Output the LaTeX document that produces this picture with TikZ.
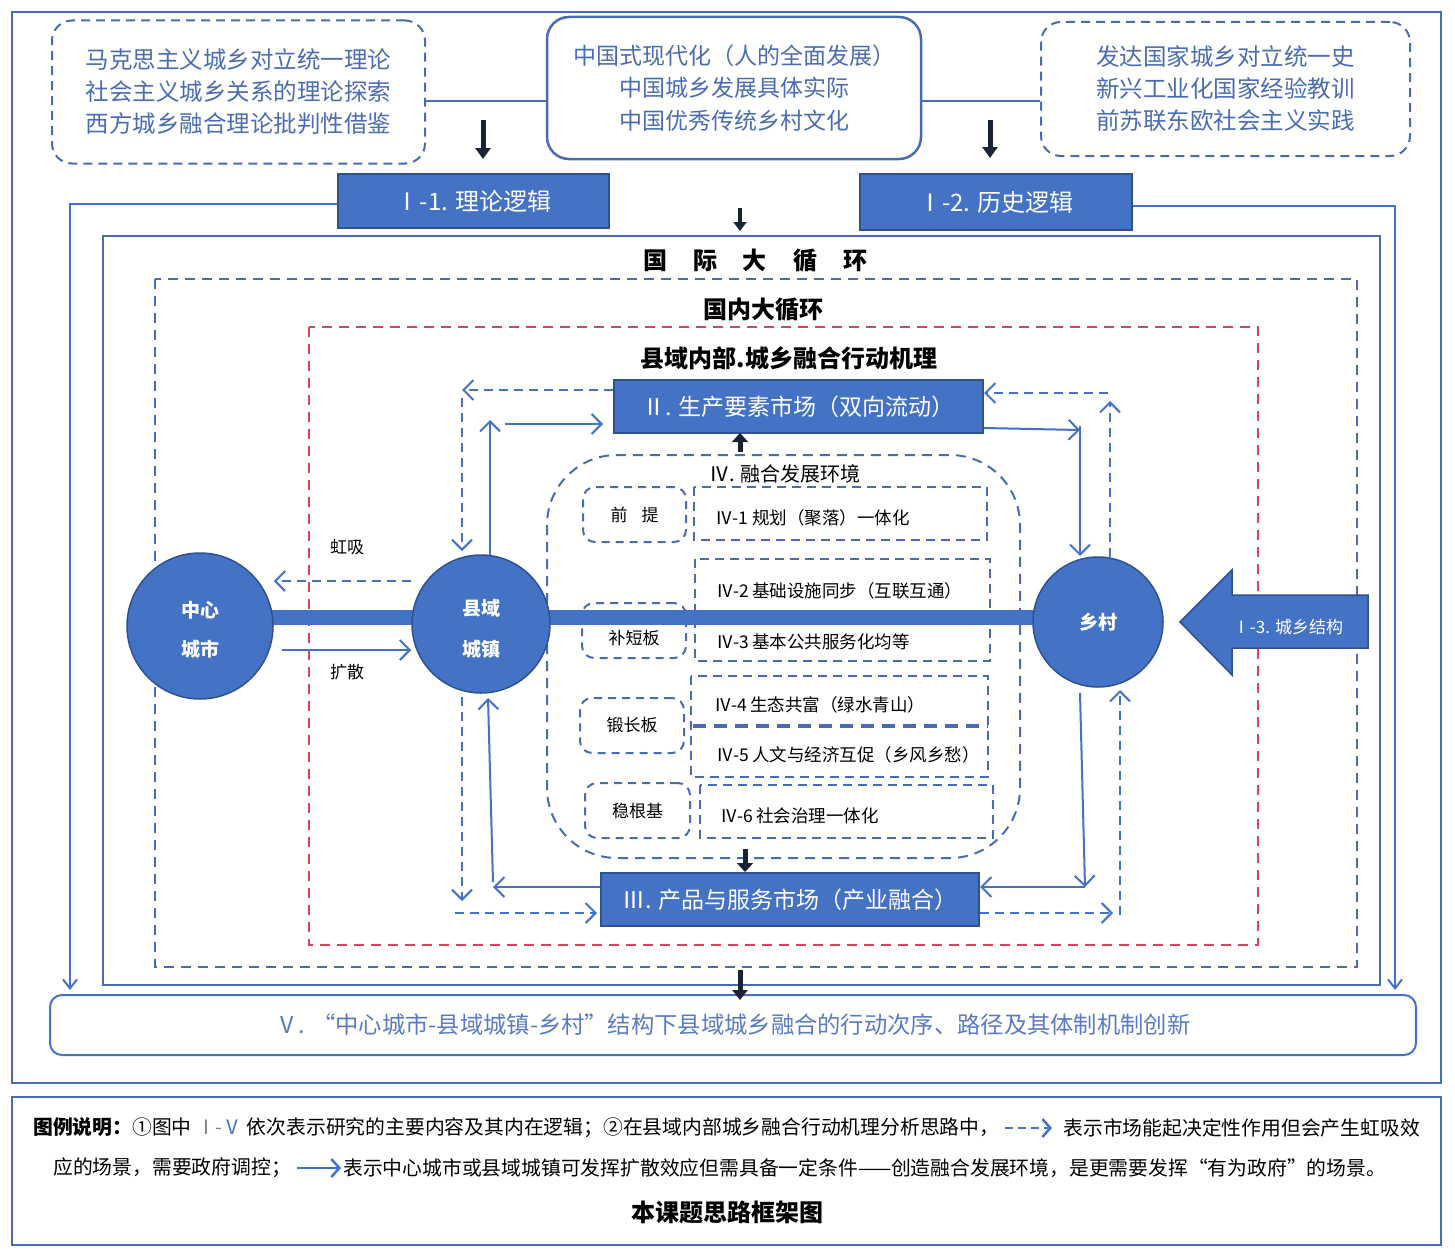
\documentclass[tikz,border=0pt]{standalone}
\usepackage{fontspec}
\setmainfont{Noto Sans CJK SC}
\usetikzlibrary{arrows.meta}
\definecolor{mblue}{HTML}{4472C4}
\definecolor{dblue}{HTML}{2F528F}
\definecolor{fblue}{HTML}{4A6BAF}
\definecolor{tblue}{HTML}{4A6CB0}
\definecolor{lblue}{HTML}{5A7BC2}
\definecolor{mred}{HTML}{D6455E}
\definecolor{blk}{HTML}{1A2236}
\newcommand\myfs[2]{\fontsize{#1}{#2}\selectfont}
\tikzset{
  frame/.style={draw=fblue, line width=2.5pt},
  dashbox/.style={draw=fblue, line width=2pt, dash pattern=on 9pt off 6pt, rounded corners=20pt},
  solidbox/.style={draw=fblue, line width=2.5pt, rounded corners=22pt},
  fillbox/.style={fill=mblue, draw=dblue, line width=2pt, text=white, inner sep=0pt},
  dframe/.style={draw=fblue, line width=2pt, dash pattern=on 10pt off 7pt},
  rframe/.style={draw=mred, line width=2pt, dash pattern=on 10pt off 7pt},
  ttl/.style={font=\myfs{24}{24}\bfseries, text=black},
  sbox/.style={draw=fblue, line width=2pt, dash pattern=on 8pt off 6pt, rounded corners=12pt, font=\myfs{17}{17}, text=black, inner sep=0pt},
  ibox/.style={draw=fblue, line width=2pt, dash pattern=on 9pt off 6pt},
  item/.style={font=\myfs{17.5}{17.5}, text=black, anchor=west, inner sep=0pt},
  circ/.style={circle, fill=mblue, draw=dblue, line width=1.5pt, inner sep=0pt},
  ctext/.style={text=white, font=\myfs{19}{19}\bfseries, inner sep=0pt},
  sarr/.style={draw=mblue, line width=2pt, -{Straight Barb[length=10pt,width=20pt]}},
  darr/.style={sarr, dash pattern=on 9pt off 6pt},
  thinarr/.style={draw=mblue, line width=2pt, -{Straight Barb[length=9pt,width=14pt]}},
  blkarr/.style={draw=blk, line width=5pt, -{Triangle[length=11pt,width=15pt]}},
  lbl/.style={font=\myfs{17}{17}, text=black, inner sep=0pt},
}
\begin{document}
\begin{tikzpicture}[x=1pt,y=-1pt]
\useasboundingbox (0,0) rectangle (1455,1255);
% outer frames
\draw[frame] (12,12) rectangle (1441,1083);
\draw[frame] (12,1097) rectangle (1441,1245);

% top boxes
\node[dashbox, minimum width=373pt, minimum height=143pt, text=tblue, font=\myfs{23.5}{32}, align=center] (lb) at (238.5,92)
  {马克思主义城乡对立统一理论\\社会主义城乡关系的理论探索\\西方城乡融合理论批判性借鉴};
\node[solidbox, minimum width=374pt, minimum height=142pt, text=tblue, font=\myfs{23}{32.5}, align=center] (cb) at (734,88)
  {中国式现代化（人的全面发展）\\中国城乡发展具体实际\\中国优秀传统乡村文化};
\node[dashbox, minimum width=369pt, minimum height=134pt, text=tblue, font=\myfs{23.5}{32}, align=center] (rb) at (1225.5,89)
  {发达国家城乡对立统一史\\新兴工业化国家经验教训\\前苏联东欧社会主义实践};
\draw[draw=fblue, line width=2.5pt] (lb.east |- 0,101) -- (cb.west |- 0,101);
\draw[draw=fblue, line width=2.5pt] (cb.east |- 0,101) -- (rb.west |- 0,101);

% I-1, I-2
\node[fillbox, minimum width=271pt, minimum height=54pt, font=\myfs{24}{24}] (I1) at (473.5,201) {Ⅰ-1. 理论逻辑};
\node[fillbox, minimum width=272pt, minimum height=56pt, font=\myfs{24}{24}] (I2) at (996,202) {Ⅰ-2. 历史逻辑};
\coordinate (a1s) at (483,120); \coordinate (a1e) at (483,159);
\coordinate (a2s) at (990,120); \coordinate (a2e) at (990,158);
\draw[blkarr] (a1s) -- (a1e);
\draw[blkarr] (a2s) -- (a2e);

% international frame
\draw[frame] (103,236) rectangle (1380,985);
\coordinate (a3s) at (740,208); \coordinate (a3e) at (740,231);
\draw[blkarr, line width=4pt, -{Triangle[length=9pt,width=13pt]}] (a3s) -- (a3e);
\node[ttl] (intlT) at (755,261) {国\hspace{26pt}际\hspace{26pt}大\hspace{26pt}循\hspace{26pt}环};

% I-1 and I-2 to V
\coordinate (vl) at (70,990); \coordinate (vr) at (1395,990);
\draw[thinarr] (I1.west |- 0,204) -| (vl);
\draw[thinarr] (I2.east |- 0,206) -| (vr);

% domestic frame
\draw[dframe] (155,279) rectangle (1357,967);
\node[ttl] (domT) at (763,310) {国内大循环};
% red frame
\draw[rframe] (309,327) rectangle (1258,945);
\node[ttl] (redT) at (789,358) {县域内部.城乡融合行动机理};

% IV environment
\draw[draw=fblue, line width=2pt, dash pattern=on 10pt off 7pt, rounded corners=70pt] (547,455) rectangle (1020,858);
\node[font=\myfs{20}{20}, text=black, inner sep=0pt] (ivT) at (785,474) {Ⅳ. 融合发展环境};
\node[sbox, minimum width=103pt, minimum height=55pt] (qt) at (634.5,514.5) {前\hspace{14pt}提};
\node[sbox, minimum width=104pt, minimum height=55pt] (bdb) at (634,630.5) {};
\node[font=\myfs{17}{17}, text=black, inner sep=0pt] (bdbT) at (634,638) {补短板};
\node[sbox, minimum width=104pt, minimum height=55pt] (dcb) at (632,725.5) {锻长板};
\node[sbox, minimum width=105pt, minimum height=55pt] (wgj) at (637.5,810.5) {稳根基};
\draw[ibox] (694,487) rectangle (987,540);
\draw[ibox] (695,559) rectangle (990,661);
\draw[ibox] (691,676) rectangle (988,777);
\draw[draw=fblue, line width=4.5pt, dash pattern=on 13pt off 8pt] (693,726) -- (988,726);
\draw[ibox] (700,785) rectangle (993,838);
\node[item] (iv1) at (715,518) {Ⅳ-1 规划（聚落）一体化};
\node[item] (iv2) at (716,591) {Ⅳ-2\,基础设施同步（互联互通）};
\node[item] (iv3) at (716,642) {Ⅳ-3\,基本公共服务化均等};
\node[item] (iv4) at (714,705) {Ⅳ-4\,生态共富（绿水青山）};
\node[item] (iv5) at (716,755) {Ⅳ-5\,人文与经济互促（乡风乡愁）};
\node[item] (iv6) at (720,816) {Ⅳ-6\,社会治理一体化};

% thick bar
\coordinate (barL) at (272,617.5); \coordinate (barR) at (1036,617.5);
\draw[draw=mblue, line width=15pt] (barL) -- (barR);

% circles
\node[circ, minimum size=146pt] (city) at (200,626) {};
\node[ctext] (cityA) at (200,610) {中心};
\node[ctext] (cityB) at (200,649) {城市};
\node[circ, minimum size=138pt] (county) at (481,624) {};
\node[ctext] (countyA) at (481,608) {县域};
\node[ctext] (countyB) at (481,649) {城镇};
\node[circ, minimum size=130pt] (vill) at (1098,622) {};
\node[ctext] (villT) at (1098,622) {乡村};

% markets
\node[fillbox, minimum width=369pt, minimum height=53pt, font=\myfs{23}{23}] (II) at (798.5,406.5) {Ⅱ. 生产要素市场（双向流动）};
\node[fillbox, minimum width=378pt, minimum height=53pt, font=\myfs{23}{23}] (III) at (790,899.5) {Ⅲ. 产品与服务市场（产业融合）};
\coordinate (a4s) at (740,452); \coordinate (a4e) at (740,433);
\draw[blkarr, line width=5pt, -{Triangle[length=9pt,width=16pt]}] (a4s) -- (a4e);
\coordinate (a5s) at (745,849); \coordinate (a5e) at (745,872);
\draw[blkarr, line width=5pt, -{Triangle[length=9pt,width=16pt]}] (a5s) -- (a5e);

% city - county
\node[lbl] (hx) at (347,547) {虹吸};
\node[lbl] (ks) at (347,672) {扩散};
\draw[darr] (county.west |- 0,581) -- (city.east |- 0,581);
\draw[sarr] (282,650) -- (county.west |- 0,650);

% county arrows
\coordinate (c1) at (462,390);
\draw[darr] (II.west |- 0,390) -- (c1);
\draw[darr] (462,398) -- (462,551);
\draw[sarr] (490,555) -- (490,420);
\draw[sarr] (505,424) -- (603,424);
\draw[sarr] (III.west |- 0,887) -- (493,887);
\draw[sarr] (493,882) -- (488,698);
\draw[darr] (462,697) -- (462,901);
\draw[darr] (455,913) -- (597,913);

% village arrows
\draw[sarr] (II.east |- 0,428) -- (1080,430);
\draw[sarr] (1080,426) -- (1080,556);
\draw[darr] (1110,557) -- (1110,401);
\draw[darr] (1108,393) -- (II.east |- 0,393);
\draw[sarr] (1080,693) -- (1085,887);
\draw[sarr] (1085,887) -- (III.east |- 0,887);
\draw[darr] (III.east |- 0,913) -- (1113,913);
\draw[darr] (1120,915) -- (1120,690);

% I-3 block arrow
\draw[fill=mblue, draw=dblue, line width=1.5pt] (1368,595) -- (1232,595) -- (1232,570) -- (1180,622) -- (1232,675) -- (1232,648) -- (1368,648) -- cycle;
\node[text=white, font=\myfs{17}{17}, inner sep=0pt] (I3) at (1288,627) {Ⅰ-3. 城乡结构};

% V box
\coordinate (a6s) at (740,970); \coordinate (a6e) at (740,1000);
\node[draw=mblue, line width=2pt, rounded corners=12pt, minimum width=1366pt, minimum height=60pt, text=lblue, font=\myfs{23.3}{23.3}] (V) at (733,1025)
  {Ⅴ. “中心城市-县域城镇-乡村”结构下县域城乡融合的行动次序、路径及其体制机制创新};
\draw[blkarr, line width=5pt, -{Triangle[length=10pt,width=15pt]}] (a6s) -- (a6e);

% legend
\node[anchor=west, inner sep=0pt, font=\myfs{19.8}{19.8}] (lg1) at (33,1128)
  {\textbf{图例说明：}①图中 {\color{gray}Ⅰ-}{\color{mblue}Ⅴ} 依次表示研究的主要内容及其内在逻辑；②在县域内部城乡融合行动机理分析思路中，};
\coordinate (lda) at (1005,1128); \coordinate (ldb) at (1052,1128);
\draw[draw=mblue, line width=2.5pt, dash pattern=on 8pt off 5pt, -{Straight Barb[length=8pt,width=18pt]}] (lda) -- (ldb);
\node[anchor=east, inner sep=0pt, font=\myfs{19.8}{19.8}] (lg2) at (1420,1128) {表示市场能起决定性作用但会产生虹吸效};
\node[anchor=west, inner sep=0pt, font=\myfs{19.8}{19.8}] (lg3) at (53,1168) {应的场景，需要政府调控；};
\coordinate (lsa) at (297,1168); \coordinate (lsb) at (341,1168);
\draw[draw=mblue, line width=2.5pt, -{Straight Barb[length=8pt,width=18pt]}] (lsa) -- (lsb);
\node[anchor=west, inner sep=0pt, font=\myfs{19.8}{19.8}] (lg4) at (343,1168) {表示中心城市或县域城镇可发挥扩散效应但需具备一定条件——创造融合发展环境，是更需要发挥“有为政府”的场景。};
\node[font=\myfs{24}{24}\bfseries, inner sep=0pt] (lgT) at (727,1212) {本课题思路框架图};
\end{tikzpicture}
\end{document}
